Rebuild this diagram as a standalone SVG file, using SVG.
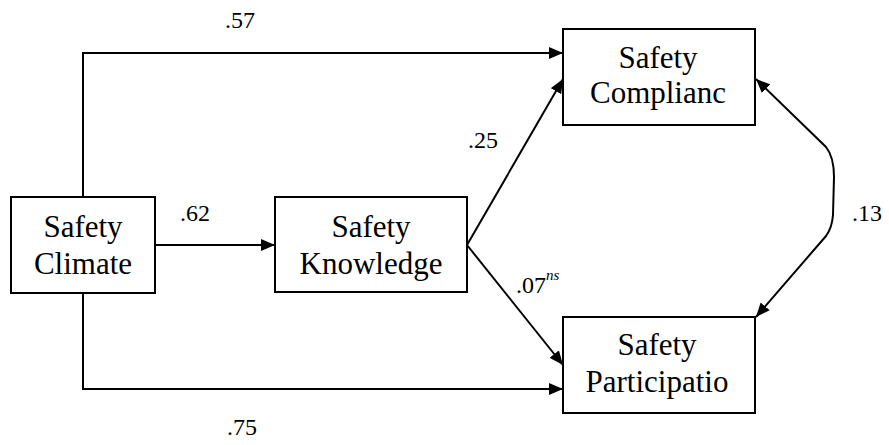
<svg xmlns="http://www.w3.org/2000/svg" width="889" height="445" viewBox="0 0 889 445">
<style>
.box{fill:#fff;stroke:#000;stroke-width:2}
.t{font-size:31px;text-anchor:middle;fill:#000}
.l{font-size:24px;fill:#000}
.c{fill:none;stroke:#000;stroke-width:2}
</style>
<defs>
<marker id="ah" viewBox="0 0 14 12" refX="14" refY="6" markerWidth="14" markerHeight="12" markerUnits="userSpaceOnUse" orient="auto-start-reverse">
<path d="M0,0 L14,6 L0,12 Z" fill="#000"/>
</marker>
</defs>
<rect width="889" height="445" fill="#fff"/>
<g id="connectors">
<path class="c" d="M83,197 V53 H563" marker-end="url(#ah)"/>
<path class="c" d="M83,293 V389 H563" marker-end="url(#ah)"/>
<path class="c" d="M155,245 H275" marker-end="url(#ah)"/>
<path class="c" d="M467,245 L563,79" marker-end="url(#ah)"/>
<path class="c" d="M467,245 L563,365" marker-end="url(#ah)"/>
<path class="c" d="M756,79 L826,147 Q834,157 834,177 L833,215 Q832,228 826,236 L756,317" marker-start="url(#ah)" marker-end="url(#ah)"/>
</g>
<g id="labels" font-family="Liberation Serif, Times New Roman, serif">
<text class="l" x="225" y="28">.57</text>
<text class="l" x="180" y="221">.62</text>
<text class="l" x="468" y="148">.25</text>
<text class="l" x="516" y="293">.07<tspan font-size="15" font-style="italic" dy="-13">ns</tspan></text>
<text class="l" x="852" y="221">.13</text>
<text class="l" x="227" y="435">.75</text>
</g>
<g id="climate" font-family="Liberation Serif, Times New Roman, serif">
<rect class="box" x="11" y="197" width="144" height="96"/>
<text class="t" x="83" y="237">Safety</text>
<text class="t" x="83" y="274">Climate</text>
</g>
<g id="knowledge" font-family="Liberation Serif, Times New Roman, serif">
<rect class="box" x="275" y="197" width="192" height="95"/>
<text class="t" x="371" y="237">Safety</text>
<text class="t" x="371" y="274">Knowledge</text>
</g>
<g id="compliance" font-family="Liberation Serif, Times New Roman, serif">
<rect class="box" x="563" y="29" width="192" height="96"/>
<text class="t" x="658" y="68">Safety</text>
<text class="t" x="658" y="103">Complianc</text>
</g>
<g id="participation" font-family="Liberation Serif, Times New Roman, serif">
<rect class="box" x="563" y="317" width="192" height="96"/>
<text class="t" x="657" y="355">Safety</text>
<text class="t" x="657" y="392">Participatio</text>
</g>
</svg>
